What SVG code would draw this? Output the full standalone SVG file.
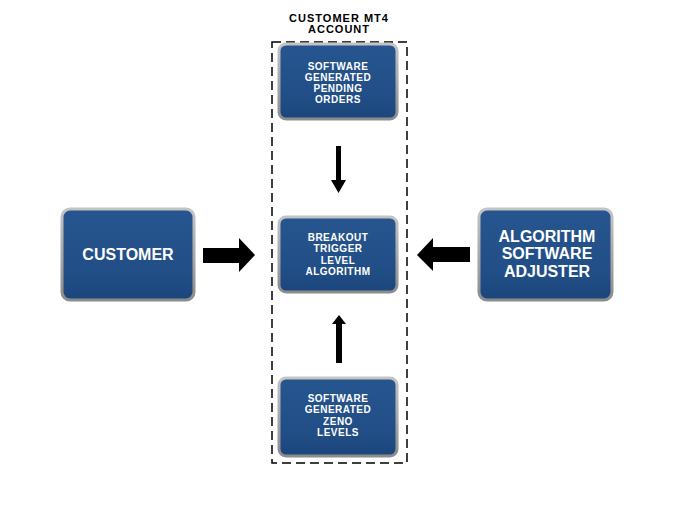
<svg xmlns="http://www.w3.org/2000/svg" width="677" height="508" viewBox="0 0 677 508">
<defs>
<linearGradient id="blue" x1="0" y1="0" x2="0" y2="1">
<stop offset="0" stop-color="#27558F"/>
<stop offset="0.7" stop-color="#214E86"/>
<stop offset="1" stop-color="#1B467C"/>
</linearGradient>
<linearGradient id="rim" x1="0" y1="0" x2="0" y2="1">
<stop offset="0" stop-color="#c4c4c4"/>
<stop offset="1" stop-color="#8c8c8c"/>
</linearGradient>
<style>
.box{fill:url(#blue);stroke:url(#rim);stroke-width:3}
.sm{font-family:"Liberation Sans",Arial,sans-serif;font-weight:bold;font-size:10px;fill:#fff;text-anchor:middle;letter-spacing:0.5px}
.lg{font-family:"Liberation Sans",Arial,sans-serif;font-weight:bold;font-size:16px;fill:#fff;text-anchor:middle}
.title{font-family:"Liberation Sans",Arial,sans-serif;font-weight:bold;font-size:11px;fill:#000;text-anchor:middle;letter-spacing:1px}
.arrow{fill:#000}
</style>
</defs>
<rect width="677" height="508" fill="#fff"/>
<g id="account">
<rect x="272" y="42" width="135" height="421" fill="none" stroke="#000" stroke-width="1.5" stroke-dasharray="9,5"/>
<text class="title" x="339" y="22">CUSTOMER MT4</text>
<text class="title" x="339" y="33">ACCOUNT</text>
</g>
<g id="pending">
<rect class="box" x="279" y="44" width="118" height="75" rx="7"/>
<text class="sm" x="338" y="70">SOFTWARE</text>
<text class="sm" x="338" y="81">GENERATED</text>
<text class="sm" x="338" y="92">PENDING</text>
<text class="sm" x="338" y="103">ORDERS</text>
</g>
<g id="breakout">
<rect class="box" x="279" y="217" width="118" height="75" rx="7"/>
<text class="sm" x="338" y="241">BREAKOUT</text>
<text class="sm" x="338" y="252">TRIGGER</text>
<text class="sm" x="338" y="264">LEVEL</text>
<text class="sm" x="338" y="275">ALGORITHM</text>
</g>
<g id="zeno">
<rect class="box" x="279" y="378" width="118" height="78" rx="7"/>
<text class="sm" x="338" y="402">SOFTWARE</text>
<text class="sm" x="338" y="413">GENERATED</text>
<text class="sm" x="338" y="425">ZENO</text>
<text class="sm" x="338" y="436">LEVELS</text>
</g>
<g id="customer">
<rect class="box" x="62" y="209" width="132" height="91" rx="8"/>
<text class="lg" x="128" y="260">CUSTOMER</text>
</g>
<g id="adjuster">
<rect class="box" x="479" y="209" width="133" height="91" rx="8"/>
<text class="lg" x="547" y="242">ALGORITHM</text>
<text class="lg" x="547" y="259">SOFTWARE</text>
<text class="lg" x="547" y="277">ADJUSTER</text>
</g>
<g id="connectors">
<polygon class="arrow" points="203,248 239,248 239,238 255,255 239,272 239,263 203,263"/>
<polygon class="arrow" points="470,247 433,247 433,238 417,255 433,271 433,262 470,262"/>
<polygon class="arrow" points="336,146 341,146 341,180 346,180 338.5,193 331,180 336,180"/>
<polygon class="arrow" points="336,363 342,363 342,324 346,324 339,315 332,324 336,324"/>
</g>
</svg>
